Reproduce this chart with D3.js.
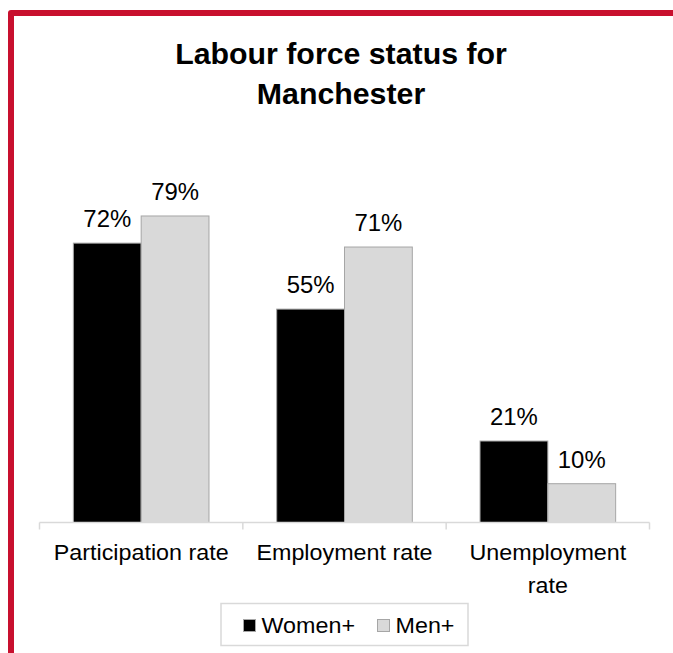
<!DOCTYPE html>
<html>
<head>
<meta charset="utf-8">
<script src="https://cdn.jsdelivr.net/npm/d3@7"></script>
<style>
  html, body { margin: 0; padding: 0; background: #fff; }
  svg { display: block; }
  text { font-family: Arial, "Liberation Sans", Helvetica, sans-serif; }
</style>
</head>
<body>
<svg id="chart" width="673" height="653"></svg>
<script>
const titleLines = ["Labour force status for", "Manchester"];
const categories = ["Participation rate", "Employment rate", "Unemployment rate"];
const categoryLines = [["Participation rate"], ["Employment rate"], ["Unemployment", "rate"]];
const seriesNames = ["Women+", "Men+"];
const women = [72, 55, 21];
const men = [79, 71, 10];
const seriesColors = ["#000000", "#d9d9d9"];

const svg = d3.select("#chart");
const W = 673, H = 653;
const sx = 1.06;

// red frame
svg.append("path")
  .attr("d", `M11,${H + 5} L11,13 L${W + 5},13`)
  .attr("fill", "none")
  .attr("stroke", "#c8102e")
  .attr("stroke-width", 6)
  .attr("stroke-linejoin", "round");

// title
svg.append("g").selectAll("text").data(titleLines).join("text")
  .attr("transform", (d, i) => `translate(341,${64 + i * 40}) scale(1.01,1)`)
  .attr("text-anchor", "middle")
  .attr("font-size", 30).attr("font-weight", "bold").attr("fill", "#000")
  .text(d => d);

const x0 = d3.scaleBand().domain(categories).range([39.5, 649.5]).padding(0);
const x1 = d3.scaleBand().domain(seriesNames)
  .range([x0.bandwidth() * 0.1665, x0.bandwidth() * 0.8335]).padding(0);
const y = d3.scaleLinear().domain([0, 100]).range([522.5, 134.5]);

const data = categories.map((c, i) => ({ cat: c, vals: [women[i], men[i]] }));

const groups = svg.append("g").selectAll("g").data(data).join("g")
  .attr("transform", d => `translate(${x0(d.cat)},0)`);

groups.selectAll("rect").data(d => d.vals.map((v, j) => ({ s: seriesNames[j], v, j })))
  .join("rect")
  .attr("x", d => x1(d.s))
  .attr("y", d => y(d.v))
  .attr("width", x1.bandwidth())
  .attr("height", d => y(0) - y(d.v))
  .attr("fill", d => seriesColors[d.j])
  .attr("stroke", "#a6a6a6")
  .attr("stroke-width", 1);

groups.selectAll("text.val").data(d => d.vals.map((v, j) => ({ s: seriesNames[j], v, j })))
  .join("text").attr("class", "val")
  .attr("transform", d => `translate(${x1(d.s) + x1.bandwidth() / 2},${y(d.v) - 16}) scale(1.04,1)`)
  .attr("text-anchor", "middle")
  .attr("font-size", 23).attr("fill", "#000")
  .text(d => d.v + "%");

// axis
const axis = svg.append("g").attr("transform", `translate(0,${y(0)})`)
  .call(d3.axisBottom(x0).tickSize(0).tickFormat(""));
axis.select(".domain").attr("stroke", "#d9d9d9").attr("stroke-width", 1.5)
  .attr("d", `M39.5,0H649.5`);
axis.selectAll(".tick").remove();
const edges = categories.map(c => x0(c)).concat([x0.range()[1]]);
axis.selectAll("line.sep").data(edges).join("line").attr("class", "sep")
  .attr("x1", d => d).attr("x2", d => d).attr("y1", 0).attr("y2", 7)
  .attr("stroke", "#d9d9d9").attr("stroke-width", 1.5);

// category labels
const cl = svg.append("g");
categories.forEach((c, i) => {
  categoryLines[i].forEach((line, k) => {
    cl.append("text")
      .attr("transform", `translate(${x0(c) + x0.bandwidth() / 2},${559.5 + k * 33}) scale(${sx},1)`)
      .attr("text-anchor", "middle")
      .attr("font-size", 22).attr("fill", "#000")
      .text(line);
  });
});

// legend
const lg = svg.append("g");
lg.append("rect").attr("x", 221).attr("y", 603.5).attr("width", 247).attr("height", 42)
  .attr("fill", "#fff").attr("stroke", "#d9d9d9").attr("stroke-width", 1.5);
const legendX = [243.5, 377.5];
seriesNames.forEach((s, j) => {
  lg.append("rect").attr("x", legendX[j]).attr("y", 619.5).attr("width", 12).attr("height", 12)
    .attr("fill", seriesColors[j]).attr("stroke", "#a6a6a6").attr("stroke-width", 1);
  lg.append("text")
    .attr("transform", `translate(${legendX[j] + 18},633) scale(${sx},1)`)
    .attr("font-size", 22).attr("fill", "#000")
    .text(s);
});
</script>
</body>
</html>
